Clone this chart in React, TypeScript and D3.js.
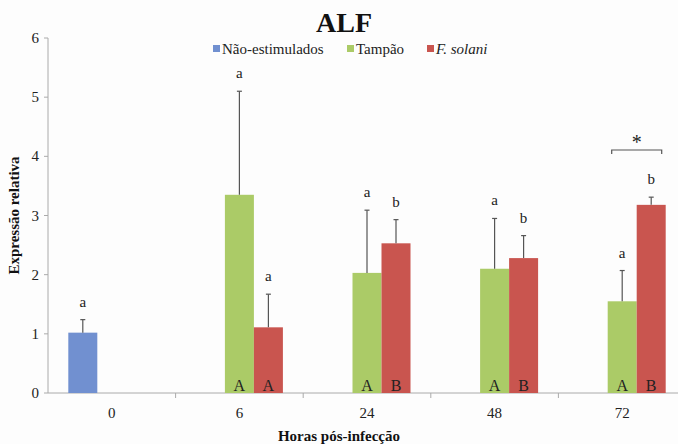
import React from 'react';
import * as d3 from 'd3';

const categories = ['0', '6', '24', '48', '72'];
const seriesNames = ['Não-estimulados', 'Tampão', 'F. solani'];
const naoEstimulados = [1.02, null, null, null, null];
const tampao = [null, 3.35, 2.03, 2.1, 1.55];
const fSolani = [null, 1.11, 2.53, 2.28, 3.18];
const naoErr = [0.22, null, null, null, null];
const tampaoErr = [null, 1.75, 1.06, 0.85, 0.52];
const fSolaniErr = [null, 0.56, 0.4, 0.38, 0.13];
const naoLetters = ['a', null, null, null, null];
const tampaoLetters = [null, 'a', 'a', 'a', 'a'];
const fSolaniLetters = [null, 'a', 'b', 'b', 'b'];
const tampaoCaps = [null, 'A', 'A', 'A', 'A'];
const fSolaniCaps = [null, 'A', 'B', 'B', 'B'];
const yTicks = [0, 1, 2, 3, 4, 5, 6];

const colors = ['#7190d0', '#abcb67', '#c9554f'];
const serif = { fontFamily: '"Liberation Serif"' };

const W = 678;
const H = 444;

const App = () => {
  const x = d3.scaleBand<string>().domain(categories).range([48, 686]);
  const inner = d3.scaleBand<number>().domain([0, 1, 2]).range([0, 87]);
  const groupOffset = (x.bandwidth() - 87) / 2;
  const y = d3.scaleLinear().domain([0, 6]).range([393, 38]);

  const values = [naoEstimulados, tampao, fSolani];
  const errs = [naoErr, tampaoErr, fSolaniErr];
  const letters = [naoLetters, tampaoLetters, fSolaniLetters];
  const caps = [null, tampaoCaps, fSolaniCaps];

  const bars: any[] = [];
  values.forEach((vals, s) => {
    vals.forEach((v, i) => {
      if (v == null) return;
      const bx = (x(categories[i]) as number) + groupOffset + (inner(s) as number);
      const bw = inner.bandwidth();
      const cx = bx + bw / 2;
      const e = errs[s][i] as number;
      const top = y(v + e);
      bars.push(
        <g key={`${s}-${i}`}>
          <rect x={bx} y={y(v)} width={bw} height={y(0) - y(v)} fill={colors[s]} />
          <line x1={cx} x2={cx} y1={y(v)} y2={top} stroke="#555" strokeWidth={1.2} />
          <line x1={cx - 2.5} x2={cx + 2.5} y1={top} y2={top} stroke="#555" strokeWidth={1.2} />
          <text x={cx} y={top - 13} textAnchor="middle" fontSize={15} style={serif} fill="#222">
            {letters[s][i]}
          </text>
          {caps[s] && (
            <text x={cx} y={391} textAnchor="middle" fontSize={16} style={serif} fill="#222">
              {caps[s]![i]}
            </text>
          )}
        </g>
      );
    });
  });

  // bracket for significance at 72h
  const last = categories[4];
  const bl = (x(last) as number) + groupOffset + (inner(1) as number) + 4;
  const br = (x(last) as number) + groupOffset + (inner(2) as number) + inner.bandwidth() - 4;

  const legendX = [213, 347, 427];

  return (
    <svg
      width={W}
      height={H}
      style={{ position: 'absolute', left: 0, top: 0, background: '#fdfdfd', fontFamily: '"Liberation Serif"' }}
    >
      <text x={344} y={32} textAnchor="middle" fontSize={28} fontWeight="bold" style={serif} fill="#111">
        ALF
      </text>

      {/* y axis */}
      <line x1={48} x2={48} y1={y(6)} y2={y(0)} stroke="#aaa" />
      {yTicks.map(t => (
        <g key={t}>
          <line x1={44} x2={48} y1={y(t)} y2={y(t)} stroke="#aaa" />
          <text x={39} y={y(t) + 5} textAnchor="end" fontSize={15} style={serif} fill="#222">
            {t}
          </text>
        </g>
      ))}

      {/* x axis */}
      <line x1={48} x2={686} y1={y(0)} y2={y(0)} stroke="#aaa" />
      {categories.map((c, i) => (
        <g key={c}>
          {i > 0 && (
            <line x1={x(c)} x2={x(c)} y1={y(0)} y2={y(0) + 5} stroke="#aaa" />
          )}
          <text x={(x(c) as number) + x.bandwidth() / 2} y={418} textAnchor="middle" fontSize={15} style={serif} fill="#222">
            {c}
          </text>
        </g>
      ))}

      {bars}

      <path
        d={`M${bl},${154}V${150}H${br}V${154}`}
        fill="none"
        stroke="#555"
        strokeWidth={1.2}
      />
      <text x={(bl + br) / 2} y={149} textAnchor="middle" fontSize={20} style={serif} fill="#222">
        *
      </text>

      {/* legend */}
      {seriesNames.map((n, i) => (
        <g key={n}>
          <rect x={legendX[i]} y={45} width={7} height={7} fill={colors[i]} />
          <text
            x={legendX[i] + 9}
            y={54}
            fontSize={15}
            style={serif}
            fontStyle={i === 2 ? 'italic' : 'normal'}
            fill="#222"
          >
            {n}
          </text>
        </g>
      ))}

      <text
        transform={`translate(19,${(y(0) + y(6)) / 2}) rotate(-90)`}
        textAnchor="middle"
        fontSize={15}
        fontWeight="bold"
        style={serif}
        fill="#111"
      >
        Expressão relativa
      </text>
      <text x={339} y={441} textAnchor="middle" fontSize={15} fontWeight="bold" style={serif} fill="#111">
        Horas pós-infecção
      </text>
    </svg>
  );
};

export default App;
